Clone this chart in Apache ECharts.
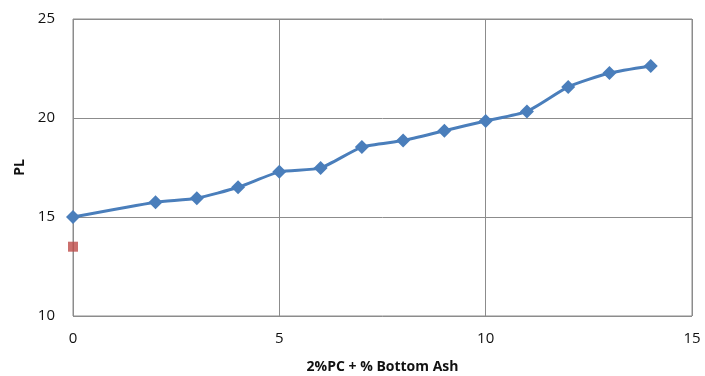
<!DOCTYPE html>
<html>
<head>
<meta charset="utf-8">
<script src="https://cdn.jsdelivr.net/npm/echarts@6/dist/echarts.min.js"></script>
<style>
  html, body { margin: 0; padding: 0; background: #fff; }
  #chart { width: 705px; height: 376px; }
</style>
</head>
<body>
<div id="chart"></div>
<script>
// PL against binder content (2% PC + % bottom ash)
const xValues = [0, 2, 3, 4, 5, 6, 7, 8, 9, 10, 11, 12, 13, 14];
const plValues = [15.0, 15.75, 15.95, 16.5, 17.28, 17.48, 18.53, 18.86, 19.36, 19.85, 20.33, 21.57, 22.27, 22.63];
const controlX = [0];
const controlPL = [13.5];

const pairs = (xs, ys) => xs.map((x, i) => [x, ys[i]]);

const chart = echarts.init(document.getElementById('chart'));
chart.setOption({
  animation: false,
  grid: {
    left: 73, top: 19, right: 13, bottom: 60,
    outerBoundsMode: 'none', containLabel: false,
    show: true, borderColor: '#8c8c8c', borderWidth: 1
  },
  xAxis: {
    type: 'value', min: 0, max: 15, interval: 5,
    name: '2%PC + % Bottom Ash', nameLocation: 'middle', nameGap: 44,
    nameTextStyle: { fontFamily: 'Open Sans', fontWeight: 'bold', fontSize: 14, color: '#111' },
    axisLine: { show: false }, axisTick: { show: false },
    axisLabel: { fontFamily: 'Open Sans', fontSize: 15, color: '#111', margin: 15 },
    splitLine: { lineStyle: { color: '#8c8c8c', width: 1 } }
  },
  yAxis: {
    type: 'value', min: 10, max: 25, interval: 5,
    name: 'PL', nameLocation: 'middle', nameGap: 46,
    nameTextStyle: { fontFamily: 'Open Sans', fontWeight: 'bold', fontSize: 14, color: '#111' },
    axisLine: { show: false }, axisTick: { show: false },
    axisLabel: { fontFamily: 'Open Sans', fontSize: 15, color: '#111', margin: 18 },
    splitLine: { lineStyle: { color: '#8c8c8c', width: 1 } }
  },
  series: [
    {
      type: 'line', data: pairs(xValues, plValues), smooth: 0.2,
      symbol: 'diamond', symbolSize: 14,
      lineStyle: { color: '#4a7ebb', width: 3 },
      itemStyle: { color: '#4a7ebb' }
    },
    {
      type: 'scatter', data: pairs(controlX, controlPL),
      symbol: 'rect', symbolSize: 10,
      itemStyle: { color: '#be4b48' }
    }
  ]
});
</script>
</body>
</html>
